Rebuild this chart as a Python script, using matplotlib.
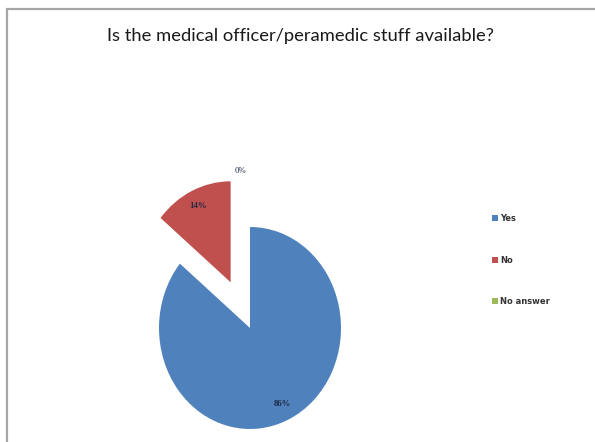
import matplotlib
matplotlib.use("Agg")
import matplotlib.pyplot as plt
from matplotlib.patches import Rectangle
import numpy as np

# Survey answers
categories = ["Yes", "No", "No answer"]
shares = [86, 14, 0]
colors = ["#4F81BD", "#C0504D", "#9BBB59"]
explode = [0, 0.5, 0]
title = "Is the medical officer/peramedic stuff available?"

W, H = 595, 442
fig = plt.figure(figsize=(W / 100, H / 100), dpi=100)
fig.patch.set_facecolor("white")

ax = fig.add_axes([0, 0, 1, 1])

wedges, texts, autotexts = ax.pie(
    shares, colors=colors, explode=explode, startangle=90, counterclock=False,
    autopct="%1.0f%%", pctdistance=0.83,
    wedgeprops=dict(linewidth=0), textprops=dict(fontsize=6.3, color="#1F2A44",
                                                 family="Liberation Serif", weight="bold"),
)

# Limits chosen so the pie is a slightly tall ellipse centred in the plot area
cx, cy, rx, ry = 250, 328, 91, 101
ax.set_aspect("auto")
ax.set_xlim(-cx / rx, (W - cx) / rx)
ax.set_ylim(-(H - cy) / ry, cy / ry)
ax.axis("off")

# Zero-share slice: its label sits outside the pie, above the slice
for w, t, s in zip(wedges, autotexts, shares):
    if s == 0:
        ang = np.deg2rad((w.theta1 + w.theta2) / 2)
        t.set_position((1.55 * np.cos(ang) - 0.1, 1.55 * np.sin(ang)))
        t.set_weight("normal")

# Chart title
fig.text(300 / W, 1 - 36 / H, title, ha="center", va="center",
         fontsize=13.2, family="Lato", color="#1a1a1a")

# Legend on the right
leg = fig.legend(wedges, categories, loc="upper left",
                 bbox_to_anchor=(488 / W, 1 - 210 / H), frameon=False,
                 handlelength=0.7, handleheight=0.7,
                 handletextpad=0.25, labelspacing=3.9, borderpad=0,
                 prop=dict(family="Liberation Sans Narrow", weight="bold", size=6))
for t in leg.get_texts():
    t.set_color("#333333")

# Chart area border
fig.patches.append(Rectangle((7 / W, -0.05), 1.1, 1 - 9 / H + 0.05,
                             transform=fig.transFigure, fill=False,
                             edgecolor="#A6A6A6", linewidth=1.6))

fig.savefig("out.png", dpi=100, facecolor="white")
